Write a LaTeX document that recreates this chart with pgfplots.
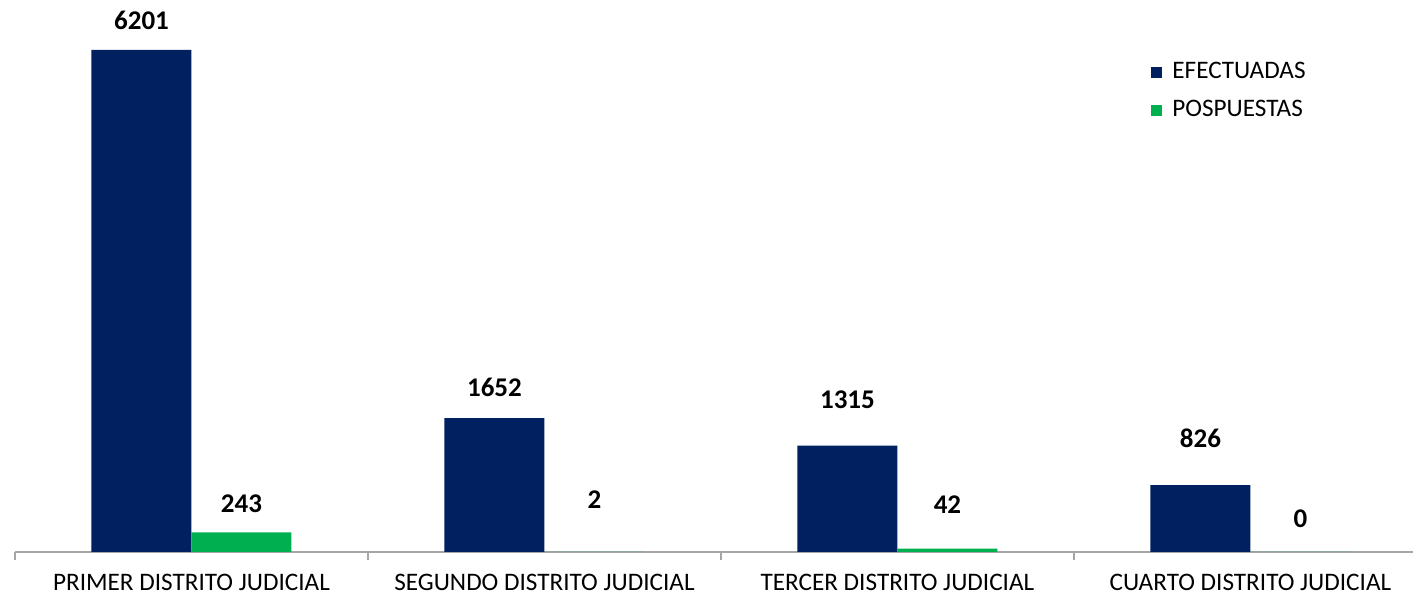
\documentclass[border=0pt]{standalone}
\usepackage{pgfplots}
\pgfplotsset{compat=1.18}
\usepackage{fontspec}
\setmainfont{Carlito}
\definecolor{efblue}{RGB}{0,32,96}
\definecolor{posgreen}{RGB}{0,176,80}
\definecolor{axgray}{RGB}{166,166,166}
\begin{document}
\begin{tikzpicture}
\path[use as bounding box] (0,0) rectangle (708pt,299pt);
\begin{axis}[
  at={(7.5pt,23pt)}, anchor=south west,
  scale only axis, width=698.9pt, height=276pt,
  xmin=-0.5, xmax=3.46, ymin=0, ymax=6818,
  ybar=0pt, bar width=50pt,
  axis y line=none,
  axis x line*=bottom,
  x axis line style={axgray, line width=1pt},
  xtick={0,1,2,3},
  xticklabels={PRIMER DISTRITO JUDICIAL, SEGUNDO DISTRITO JUDICIAL, TERCER DISTRITO JUDICIAL, CUARTO DISTRITO JUDICIAL},
  major tick length=0pt,
  extra x ticks={-0.5,0.5,1.5,2.5},
  extra x tick labels={},
  extra x tick style={major tick length=4pt, tick align=outside, tick style={axgray, line width=1pt}},
  xticklabel style={font=\fontsize{12.6}{13}\selectfont, yshift=-7.5pt},
  nodes near coords={\pgfmathprintnumber[assume math mode=true,1000 sep={}]{\pgfplotspointmeta}},
  visualization depends on={\thisrow{off} \as \myoff},
  every node near coord/.append style={font=\bfseries\fontsize{13.5}{14}\selectfont, anchor=center, yshift=\myoff pt, text=black},
  legend image code/.code={\fill[#1] (0pt,-2.75pt) rectangle (5.5pt,2.75pt);},
  legend cell align=left,
  legend style={at={(0.8127,0.835)}, anchor=west, draw=none, fill=none, inner sep=0pt,
    font=\fontsize{12.6}{13}\selectfont, column sep=5pt, row sep=9pt,
    nodes={inner sep=0pt, text height=8pt, text depth=2pt}},
]
\addplot[draw=none, fill=efblue] table[x=x, y=y] {
x y off
0 6201 15
1 1652 15.5
2 1315 23
3 826 23.5
};
\addlegendentry{EFECTUADAS}
\addplot[draw=none, fill=posgreen] table[x=x, y=y] {
x y off
0 243 14.5
1 2 26
2 42 22
3 0 16.5
};
\addlegendentry{POSPUESTAS}
\end{axis}
\end{tikzpicture}
\end{document}
